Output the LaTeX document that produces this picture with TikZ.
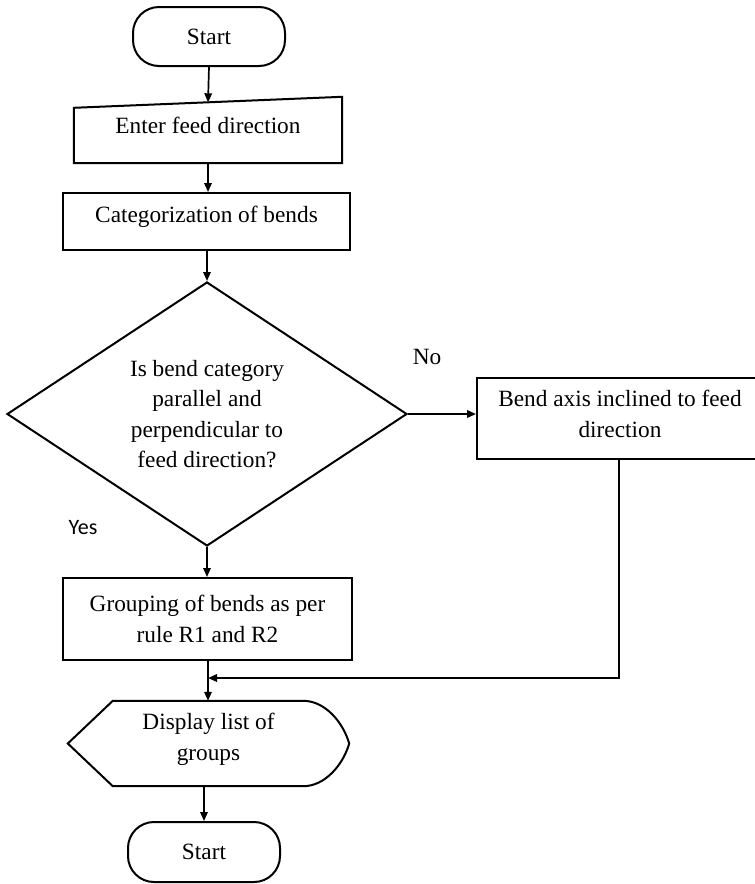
\documentclass[tikz,border=0pt]{standalone}
\usepackage{fontspec}
\setmainfont{Liberation Serif}
\newfontfamily\yesfont{Carlito}
\usetikzlibrary{arrows.meta,shapes.geometric,calc}

\begin{document}
\begin{tikzpicture}[x=1pt,y=-1pt,
  font=\fontsize{23.3}{30.5}\selectfont,
  shapeline/.style={line width=2pt,line join=miter},
  terminal/.style={shapeline,draw,rectangle,rounded corners=26pt,
    minimum width=152pt,minimum height=59pt,inner sep=0pt},
  procbox/.style={shapeline,draw,rectangle,align=center,inner sep=0pt},
  decision/.style={shapeline,draw,diamond,aspect=1.515,align=center,
    minimum width=400pt,minimum height=264pt,inner sep=0pt},
  ghost/.style={rectangle,align=center,inner sep=0pt},
  arr/.style={line width=1.7pt,-{Triangle[length=9pt,width=7.5pt]}},
  flow/.style={line width=1.7pt}]

% page frame
\fill[white] (0,0) rectangle (755,884);
\useasboundingbox (0,0) rectangle (755,884);

% shapes
\node[terminal] (start) at (209,36.5) {Start};

\node[ghost,minimum width=268pt,minimum height=66pt,text depth=10pt]
  (input) at (208,130) {Enter feed direction};
\draw[shapeline] (input.south west) -- ($(input.north west)+(0,11)$)
  -- (input.north east) -- (input.south east) -- cycle;
\coordinate (inputtop) at ($($(input.north west)+(0,11)$)!0.5!(input.north east)$);

\node[procbox,minimum width=287pt,minimum height=57pt,text depth=15pt]
  (cat) at (206.5,221.5) {Categorization of bends};

\node[decision] (dec) at (207,414)
  {Is bend category\\ parallel and\\ perpendicular to\\ feed direction?};

\node[procbox,minimum width=286pt,minimum height=81pt,text depth=9pt]
  (bend) at (620,418.5) {Bend axis inclined to feed\\ direction};

\node[procbox,minimum width=289pt,minimum height=82pt]
  (group) at (207.5,619) {Grouping of bends as per\\ rule R1 and R2};

\node[ghost,minimum width=281pt,minimum height=85pt,text depth=13pt]
  (disp) at (208.5,743.5) {Display list of\\ groups};
\draw[shapeline] (disp.west) -- ($(disp.north west)+(45,0)$)
  -- ($(disp.north east)+(-46,0)$)
  .. controls ($(disp.north east)+(-24,0)$) and ($(disp.east)+(-6,-21)$) .. (disp.east)
  .. controls ($(disp.east)+(-6,21)$) and ($(disp.south east)+(-24,0)$) .. ($(disp.south east)+(-46,0)$)
  -- ($(disp.south west)+(45,0)$) -- cycle;

\node[terminal,minimum height=60pt] (end) at (204,852) {Start};

% branch labels
\node (no) at (427,357) {No};
\node[font=\yesfont\fontsize{22}{26}\selectfont] (yes) at (83,528) {Yes};

% connectors
\coordinate (merge) at (208,678);
\draw[arr] (start.south) -- (inputtop);
\draw[arr] (input.south) -- (cat.north -| input.south);
\draw[arr] (cat.south -| dec.north) -- (dec.north);
\draw[arr] (dec.east) -- (dec.east -| bend.west);
\draw[arr] (dec.south) -- (dec.south |- group.north);
\draw[arr] (bend.south -| 619,0) |- (merge);
\draw[arr] (group.south -| merge) -- (merge |- disp.north);
\draw[arr] (disp.south -| end.north) -- (end.north);
\end{tikzpicture}
\end{document}
